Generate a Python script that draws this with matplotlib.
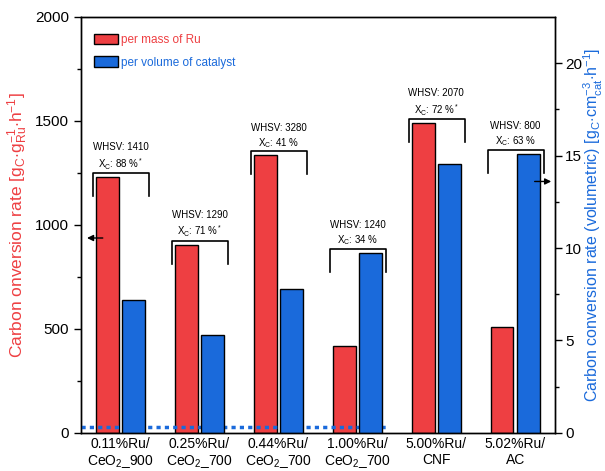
import matplotlib.pyplot as plt
import numpy as np

plt.rcParams['font.family'] = ['Liberation Sans', 'DejaVu Sans']
plt.rcParams['mathtext.fontset'] = 'custom'
plt.rcParams['mathtext.rm'] = 'Liberation Sans'
plt.rcParams['mathtext.it'] = 'Liberation Sans:italic'

catalysts = ['0.11%Ru/\nCeO$_2$_900', '0.25%Ru/\nCeO$_2$_700', '0.44%Ru/\nCeO$_2$_700',
             '1.00%Ru/\nCeO$_2$_700', '5.00%Ru/\nCNF', '5.02%Ru/\nAC']
per_mass = [1230, 905, 1335, 420, 1490, 510]
per_volume = [7.2, 5.3, 7.8, 9.75, 14.55, 15.1]
whsv = [1410, 1290, 3280, 1240, 2070, 800]
xc = [88, 71, 41, 34, 72, 63]
starred = [True, True, False, False, True, False]
baseline = 29  # dotted reference level, left-axis units

red = '#EE3F42'
blue = '#1A6ADB'

fig = plt.figure(figsize=(6.05, 4.71), dpi=100)
ax = fig.add_axes([0.134, 0.081, 0.783, 0.883])
ax2 = ax.twinx()

x = np.arange(len(catalysts))
w = 0.29
ax.bar(x - 0.168, per_mass, w, color=red, edgecolor='black', lw=1, label='per mass of Ru', zorder=2)
ax2.bar(x + 0.168, per_volume, w, color=blue, edgecolor='black', lw=1, label='per volume of catalyst', zorder=2)

ax.set_xlim(-0.5, 5.5)
ax.set_ylim(0, 2000)
ax2.set_ylim(0, 22.5)
scale = 2000 / 22.5

ax.set_xticks(x)
ax.set_xticklabels(catalysts, fontsize=10, linespacing=1.15)
ax.tick_params(axis='x', length=0, pad=3)
ax.set_yticks([0, 500, 1000, 1500, 2000])
ax.set_yticks(np.arange(0, 2001, 250), minor=True)
ax.tick_params(axis='y', labelsize=11, length=5, width=1)
ax.tick_params(axis='y', which='minor', length=3, width=1)
ax2.set_yticks([0, 5, 10, 15, 20])
ax2.set_yticks(np.arange(0, 22.5, 2.5), minor=True)
ax2.tick_params(axis='y', labelsize=11, length=5, width=1, pad=2.5)
ax2.tick_params(axis='y', which='minor', length=3, width=1)
for a in (ax, ax2):
    for s in a.spines.values():
        s.set_linewidth(1)

ax.set_ylabel(r'Carbon onversion rate [g$_\mathrm{C}$$\cdot$g$_\mathrm{Ru}^{-1}$$\cdot$h$^{-1}$]',
              color=red, fontsize=12.5, labelpad=4)
ax2.set_ylabel(r'Carbon conversion rate (volumetric) [g$_\mathrm{C}$$\cdot$cm$_\mathrm{cat}^{-3}$$\cdot$h$^{-1}$]',
               color=blue, fontsize=11.5, labelpad=0)

# brackets with WHSV / conversion notes
for i in range(len(catalysts)):
    top = max(per_mass[i], per_volume[i] * scale) + 18
    ax.plot([i - 0.35, i - 0.35, i + 0.36, i + 0.36], [top - 110, top, top, top - 110],
            color='black', lw=1.2, zorder=3)
    star = '$^*$' if starred[i] else ''
    ax.text(i, top + 8, f'WHSV: {whsv[i]}\nX$_\\mathrm{{C}}$: {xc[i]} %{star}',
            ha='center', va='bottom', fontsize=7, linespacing=1.35)

ax.plot([-0.5, 3.4], [baseline, baseline], color=blue, lw=2.5, ls=(0, (1.2, 1.2)), zorder=5)

# axis pointer arrows
ax.annotate('', xy=(-0.46, 937), xytext=(-0.19, 937),
            arrowprops=dict(arrowstyle='-|>', color='black', lw=1, mutation_scale=9))
ax2.annotate('', xy=(5.49, 13.6), xytext=(5.21, 13.6),
             arrowprops=dict(arrowstyle='-|>', color='black', lw=1, mutation_scale=9))

h1, l1 = ax.get_legend_handles_labels()
h2, l2 = ax2.get_legend_handles_labels()
leg = ax2.legend(h1 + h2, l1 + l2, loc='upper left', bbox_to_anchor=(0.005, 0.985), frameon=False,
                 fontsize=8.5, handlelength=2.0, handleheight=1.0, handletextpad=0.3, labelspacing=0.85)
for t, c in zip(leg.get_texts(), [red, blue]):
    t.set_color(c)

fig.savefig('out.png', dpi=100)
